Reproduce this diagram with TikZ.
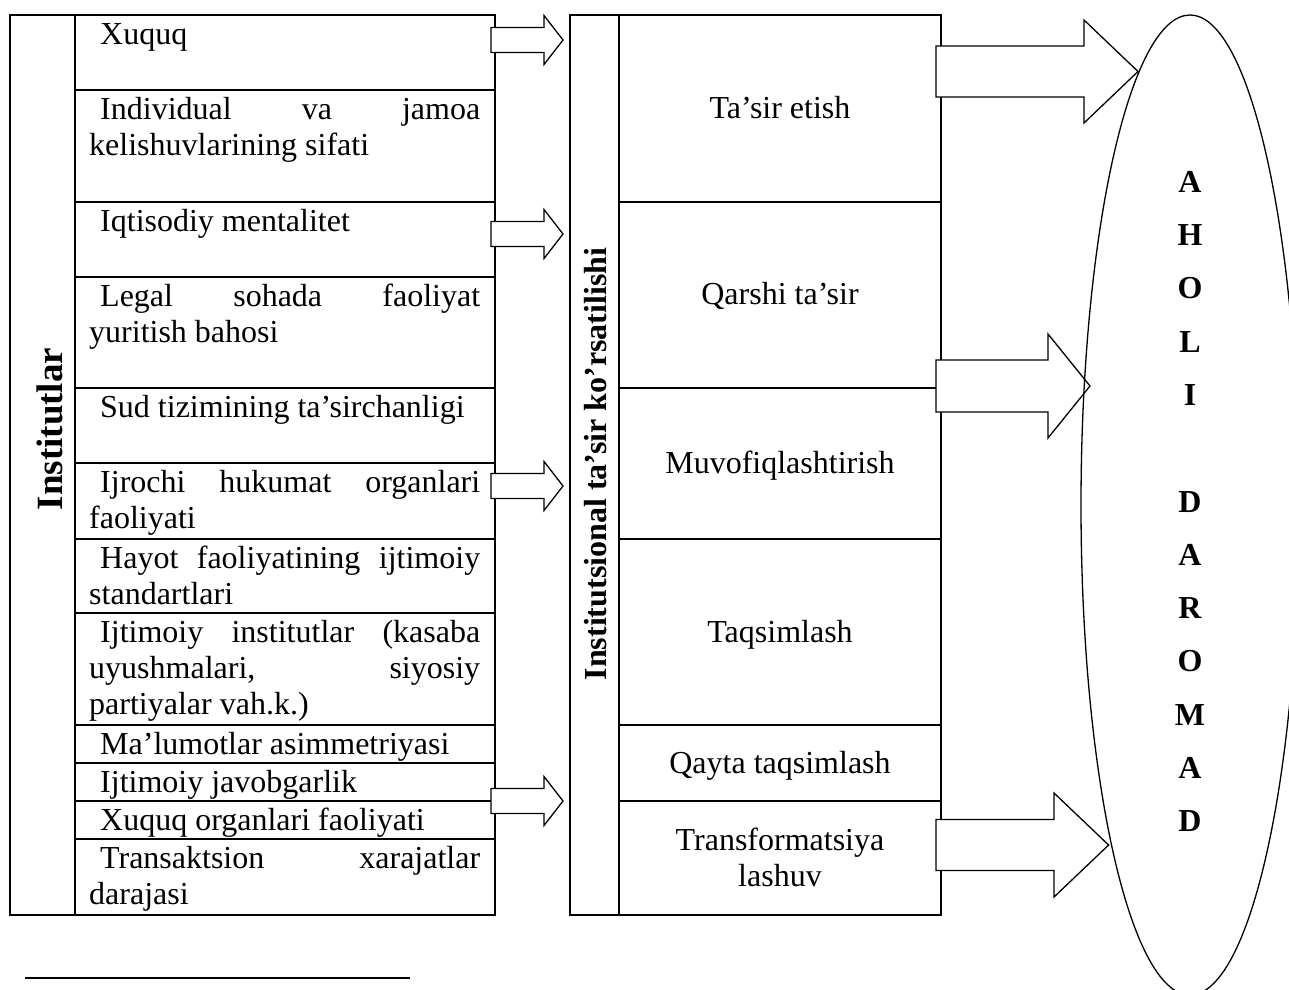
\documentclass[tikz,border=0pt]{standalone}
\usepackage{fontspec}
\setmainfont{Liberation Serif}
\usetikzlibrary{shapes.geometric}

\tikzset{
  tabline/.style={line width=1.8pt},
  rowtext/.style={anchor=north west, inner sep=0pt, text width=391pt, align=justify,
    font=\fontsize{32}{36}\selectfont},
  midtext/.style={anchor=north, inner sep=0pt, align=center,
    font=\fontsize{32}{36}\selectfont},
  vlabel/.style={rotate=90, inner sep=0pt, font=\bfseries\fontsize{32}{36}\selectfont},
  blockarrow/.style={draw, fill=white, line width=1.3pt, line join=miter},
  oval/.style={draw, ellipse, line width=1.3pt, inner sep=0pt},
  letters/.style={anchor=north, inner sep=0pt, align=center,
    font=\bfseries\fontsize{32}{53.3}\selectfont},
}

% hollow block arrow: tail x, head-base x, tip x, centre y, shaft half-height, head half-height
\newcommand\blockarr[6]{%
  \draw[blockarrow] (#1,#4-#5) -- (#2,#4-#5) -- (#2,#4-#6) -- (#3,#4)
    -- (#2,#4+#6) -- (#2,#4+#5) -- (#1,#4+#5) -- cycle;}

\newcommand\strt{\rule{0pt}{29pt}}
\newcommand\ind{\hspace*{11pt}}

\begin{document}
\begin{tikzpicture}[x=1pt,y=-1pt]
\useasboundingbox (0,0) rectangle (1289,989);
\clip (0,0) rectangle (1289,989);

% ---- left table: institutions
\draw[tabline] (10,15) rectangle (495,915);
\draw[tabline] (75,15) -- (75,915);
\foreach \y in {90,202,277,388,463,539,613,725,763,801,839}
  \draw[tabline] (75,\y) -- (495,\y);

\node[vlabel, font=\bfseries\fontsize{37}{40}\selectfont] (inst) at (49.5,429) {Institutlar};

\node[rowtext] (r1)  at (89,15)  {\strt\ind Xuquq};
\node[rowtext] (r2)  at (89,90)  {\strt\ind Individual va jamoa\linebreak kelishuvlarining sifati};
\node[rowtext] (r3)  at (89,202) {\strt\ind Iqtisodiy mentalitet};
\node[rowtext] (r4)  at (89,277) {\strt\ind Legal sohada faoliyat\linebreak yuritish bahosi};
\node[rowtext] (r5)  at (89,388) {\strt\ind Sud tizimining ta’sirchanligi};
\node[rowtext] (r6)  at (89,463) {\strt\ind Ijrochi hukumat organlari\linebreak faoliyati};
\node[rowtext] (r7)  at (89,539) {\strt\ind Hayot faoliyatining ijtimoiy\linebreak standartlari};
\node[rowtext] (r8)  at (89,613) {\strt\ind Ijtimoiy institutlar (kasaba\linebreak uyushmalari, siyosiy\linebreak partiyalar vah.k.)};
\node[rowtext] (r9)  at (89,725) {\strt\ind Ma’lumotlar asimmetriyasi};
\node[rowtext] (r10) at (89,763) {\strt\ind Ijtimoiy javobgarlik};
\node[rowtext] (r11) at (89,801) {\strt\ind Xuquq organlari faoliyati};
\node[rowtext] (r12) at (89,839) {\strt\ind Transaktsion xarajatlar\linebreak darajasi};

% ---- middle table: forms of institutional influence
\draw[tabline] (570,15) rectangle (941,915);
\draw[tabline] (619,15) -- (619,915);
\foreach \y in {202,388,539,725,801}
  \draw[tabline] (619,\y) -- (941,\y);

\node[vlabel] (infl) at (596,464) {Institutsional ta’sir ko’rsatilishi};

\node[midtext] (m1) at (780,89)  {\strt Ta’sir etish};
\node[midtext] (m2) at (780,275) {\strt Qarshi ta’sir};
\node[midtext] (m3) at (780,444) {\strt Muvofiqlashtirish};
\node[midtext] (m4) at (780,613) {\strt Taqsimlash};
\node[midtext] (m5) at (780,744) {\strt Qayta taqsimlash};
\node[midtext] (m6) at (780,821) {\strt Transformatsiya\\lashuv};

% ---- block arrows between the tables
\blockarr{491}{544}{563}{40}{12.5}{24.5}
\blockarr{491}{544}{563}{234}{12.5}{24.5}
\blockarr{491}{544}{563}{486}{12.5}{24.5}
\blockarr{491}{544}{563}{801}{12.5}{24.5}

% ---- block arrows towards the income oval
\blockarr{936}{1084}{1138}{71.5}{25.5}{51.5}
\blockarr{936}{1048}{1090}{386}{26}{52}
\blockarr{936}{1054}{1108.6}{845}{25.5}{52}

% ---- population income oval
\node[oval, minimum width=218pt, minimum height=980pt] (aholi) at (1190,505) {};
\node[letters] (daromad) at (1190,170)
  {\rule{0pt}{22pt}A\\H\\O\\L\\I\\~\\D\\A\\R\\O\\M\\A\\D};

% ---- footnote rule
\coordinate (fnA) at (25,978);
\coordinate (fnB) at (410,978);
\draw[line width=1.5pt] (fnA) -- (fnB);
\end{tikzpicture}
\end{document}
